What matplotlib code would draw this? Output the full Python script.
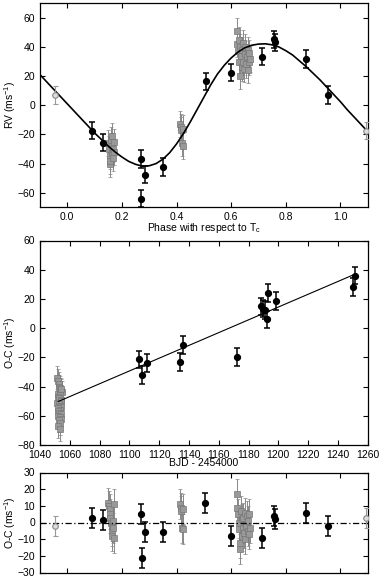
import matplotlib
matplotlib.use("Agg")
import matplotlib.pyplot as plt
import numpy as np

plt.rcParams['font.family'] = ['Liberation Sans', 'DejaVu Sans']
plt.rcParams['mathtext.fontset'] = 'custom'
plt.rcParams['mathtext.rm'] = 'Liberation Sans'
plt.rcParams['mathtext.it'] = 'Liberation Sans'

# ---------------- Panel 1: phase-folded RV ----------------
model_phase = [-0.100, -0.075, -0.050, -0.025, 0.000, 0.025, 0.050, 0.075, 0.100,
               0.125, 0.150, 0.175, 0.200, 0.225, 0.250, 0.275, 0.300, 0.325,
               0.350, 0.375, 0.400, 0.425, 0.450, 0.475, 0.500, 0.525, 0.550,
               0.575, 0.600, 0.625, 0.650, 0.675, 0.700, 0.725, 0.750, 0.775,
               0.800, 0.825, 0.850, 0.875, 0.900, 0.925, 0.950, 0.975, 1.000,
               1.025, 1.050, 1.075, 1.100]
model_rv = [21, 16, 11, 6, 1, -4, -9, -14, -19,
            -23.5, -28, -32, -35.5, -38.5, -40.5, -41.8, -41.5, -40,
            -37, -32.5, -26.5, -19.5, -11.5, -3, 5.5, 14, 21.5,
            27.5, 32.5, 36.5, 39.5, 41.2, 42, 42.2, 41.5, 40,
            37.5, 34.5, 30.5, 26.5, 22, 17.5, 12.5, 7.5, 2.5,
            -3, -8, -13, -18]

black_phase = [0.0905, 0.131, 0.270, 0.270, 0.284, 0.351, 0.509, 0.601, 0.712,
               0.757, 0.760, 0.873, 0.956]
black_rv = [-17.4, -25.6, -37.0, -64.1, -47.5, -42.5, 16.5, 22.4, 33.4,
            45.2, 43.2, 31.8, 7.2]
black_err = [6, 6, 6, 6, 6, 6, 6, 6, 6, 6, 6, 6, 6]

open_phase = [-0.044, 1.092]
open_rv = [7.0, -17.4]
open_err = [6, 6]

gray_phase = [0.150, 0.152, 0.155, 0.157, 0.158, 0.160, 0.162, 0.163, 0.165, 0.167,
              0.168, 0.170, 0.172,
              0.412, 0.415, 0.418, 0.420, 0.423, 0.425,
              0.620, 0.622, 0.625, 0.628, 0.630, 0.632, 0.634, 0.636, 0.638, 0.640,
              0.642, 0.645, 0.648, 0.650, 0.652, 0.655, 0.658, 0.660, 0.662, 0.665,
              0.667, 0.668]
gray_rv = [-26, -30, -35, -40, -38, -24, -28, -33, -21, -30,
           -36, -25, -32,
           -13, -15, -17, -26, -28, -16,
           51, 42, 37, 30, 45, 40, 20, 34, 26, 38,
           43, 30, 25, 35, 40, 28, 33, 24, 38, 30,
           36, 32]
gray_err = [9] * len(gray_rv)

# ---------------- Panel 2: O-C vs time ----------------
trend_bjd = [1052.3, 1252.0]
trend_oc = [-50.2, 37.2]

bjd_black = [1106.6, 1108.7, 1111.8, 1133.7, 1135.7, 1172.4, 1188.3, 1189.6, 1190.9,
             1192.5, 1193.4, 1198.3, 1250.2, 1251.4]
oc_black = [-21.4, -31.9, -23.7, -23.0, -11.6, -19.6, 14.9, 13.3, 12.6,
            6.0, 24.0, 18.5, 28.1, 35.9]
oc_black_err = [6] * len(oc_black)

bjd_gray = [1051.5, 1052.0, 1052.5, 1053.0, 1053.5, 1054.0, 1054.5, 1052.2, 1053.2,
            1051.8, 1052.8, 1053.8, 1054.2, 1051.6, 1052.6, 1053.6, 1054.4, 1052.4,
            1053.4, 1051.9, 1052.9, 1053.9, 1052.1, 1053.1, 1054.1, 1052.7, 1053.7,
            1052.3, 1053.3, 1054.3]
oc_gray = [-34, -36, -38, -40, -41, -43, -44, -45, -46, -47,
           -48, -49, -50, -51, -52, -53, -54, -55, -56, -57,
           -58, -59, -60, -61, -62, -63, -65, -67, -69, -42]
oc_gray_err = [8] * len(oc_gray)

# ---------------- Panel 3: residuals vs phase ----------------
res_black_phase = [0.0905, 0.130, 0.270, 0.272, 0.284, 0.351, 0.506, 0.600, 0.712,
                   0.758, 0.761, 0.874, 0.956]
res_black = [2.5, 1.3, 5.1, -21.5, -5.5, -5.5, 11.9, -7.9, -9.1,
             3.9, 2.3, 5.9, -1.9]
res_black_err = [6] * len(res_black)

res_open_phase = [-0.044, 1.092]
res_open = [-1.9, 2.7]
res_open_err = [6, 6]

res_gray_phase = gray_phase
res_gray = [12, 10, 8, 5, 3, 0, -2, -5, -8, -3,
            1, 11, -9,
            11, 9, 7, -3, -4, 8,
            17, 9, 5, 0, -4, -16, -12, 7, 2, -8,
            -3, 3, -6, 6, -10, -2, 4, -5, 1, -7,
            5, -3]
res_gray_err = [9] * len(res_gray)

# ---------------- Figure ----------------
fig = plt.figure(figsize=(3.85, 5.81), dpi=100)
W, H = 385.0, 581.0
def ax_rect(l, r, t, b):
    return [l / W, 1 - b / H, (r - l) / W, (b - t) / H]

ax1 = fig.add_axes(ax_rect(40, 367.7, 3.3, 207.3))
ax2 = fig.add_axes(ax_rect(40, 367.7, 240.5, 445))
ax3 = fig.add_axes(ax_rect(40, 367.7, 472.5, 572.5))

fs = 7.5
for ax in (ax1, ax2, ax3):
    ax.tick_params(direction='in', top=True, right=True, length=3.5, width=0.8,
                   labelsize=fs, pad=3.5)
    for s in ax.spines.values():
        s.set_linewidth(0.9)

gray_face = '#999999'
gray_edge = '#777777'
gray_bar = '#888888'

def draw_gray(ax, x, y, e):
    ax.errorbar(x, y, yerr=e, fmt='s', ms=4.5, mfc=gray_face, mec=gray_edge, mew=0.5,
                ecolor=gray_bar, elinewidth=0.7, capsize=1.5, capthick=0.7, zorder=2)

def draw_black(ax, x, y, e):
    ax.errorbar(x, y, yerr=e, fmt='o', ms=4.2, mfc='black', mec='black',
                ecolor='black', elinewidth=1.1, capsize=2.2, capthick=1.1, zorder=4)

def draw_open(ax, x, y, e):
    ax.errorbar(x, y, yerr=e, fmt='o', ms=4.0, mfc='#dddddd', mec='#888888', mew=0.8,
                ecolor='#999999', elinewidth=0.8, capsize=1.8, capthick=0.8, zorder=3)

# Panel 1
draw_gray(ax1, gray_phase, gray_rv, gray_err)
ax1.plot(model_phase, model_rv, color='black', lw=1.2, zorder=3)
draw_open(ax1, open_phase, open_rv, open_err)
draw_black(ax1, black_phase, black_rv, black_err)
ax1.set_xlim(-0.1, 1.1)
ax1.set_ylim(-70, 70)
ax1.set_xticks([0.0, 0.2, 0.4, 0.6, 0.8, 1.0])
ax1.set_xticklabels(['0.0', '0.2', '0.4', '0.6', '0.8', '1.0'])
ax1.set_yticks([-60, -40, -20, 0, 20, 40, 60])
ax1.set_ylabel('RV (ms$^{-1}$)', fontsize=fs)
ax1.set_xlabel('Phase with respect to T$_c$', fontsize=fs, labelpad=-1)

# Panel 2
draw_gray(ax2, bjd_gray, oc_gray, oc_gray_err)
ax2.plot(trend_bjd, trend_oc, color='black', lw=0.8, zorder=3)
draw_black(ax2, bjd_black, oc_black, oc_black_err)
ax2.set_xlim(1040, 1260)
ax2.set_ylim(-80, 60)
ax2.set_xticks(np.arange(1040, 1261, 20))
ax2.set_yticks(np.arange(-80, 61, 20))
ax2.set_ylabel('O-C (ms$^{-1}$)', fontsize=fs)
ax2.set_xlabel('BJD - 2454000', fontsize=fs, labelpad=-1)

# Panel 3
draw_gray(ax3, res_gray_phase, res_gray, res_gray_err)
ax3.axhline(0, color='black', lw=0.9, ls=(0, (5, 2, 1, 2)), zorder=3)
draw_open(ax3, res_open_phase, res_open, res_open_err)
draw_black(ax3, res_black_phase, res_black, res_black_err)
ax3.set_xlim(-0.1, 1.1)
ax3.set_ylim(-30, 30)
ax3.set_xticks([0.0, 0.2, 0.4, 0.6, 0.8, 1.0])
ax3.set_xticklabels([])
ax3.set_yticks(np.arange(-30, 31, 10))
ax3.set_ylabel('O-C (ms$^{-1}$)', fontsize=fs)

for ax in (ax1, ax2, ax3):
    ax.yaxis.set_label_coords(-0.066, 0.5)

fig.savefig('out.png', dpi=100)
